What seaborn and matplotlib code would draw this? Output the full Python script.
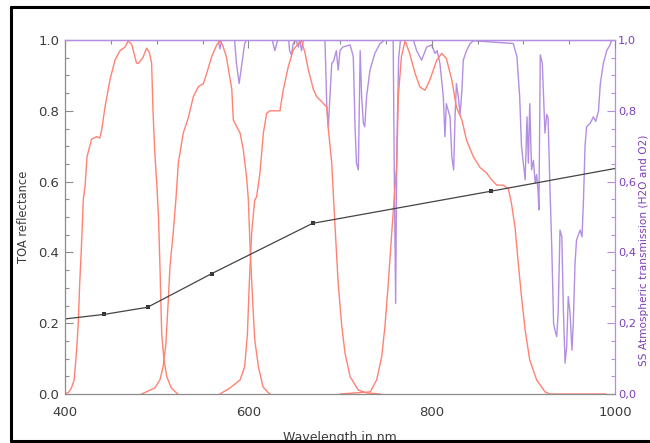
import matplotlib
matplotlib.use("Agg")
import matplotlib.pyplot as plt
from matplotlib.lines import Line2D
from matplotlib.ticker import MultipleLocator, FuncFormatter
import seaborn as sns

# TOA reflectance (black line, markers at the band centres)
toa_wl = [400, 443, 490, 560, 670, 865, 1000]
toa_val = [0.212, 0.225, 0.245, 0.34, 0.482, 0.573, 0.637]
band_wl = [443, 490, 560, 670, 865]
band_val = [0.225, 0.245, 0.339, 0.482, 0.573]

# spectral response of the four bands (red)
srf1_wl = [400, 404, 407, 410, 412.7, 414.5, 416, 418, 420, 422, 424, 429, 434.5, 438, 440, 443.6,
           449, 454.5, 460, 465.5, 469, 473, 478, 480, 485, 489, 492, 494.5, 496, 498, 500, 502,
           503.6, 505.5, 508, 511, 516, 523]
srf1_val = [0.0, 0.005, 0.017, 0.04, 0.124, 0.2, 0.31, 0.42, 0.55, 0.59, 0.67, 0.72, 0.727, 0.723,
            0.746, 0.81, 0.887, 0.943, 0.97, 0.98, 0.998, 0.986, 0.935, 0.934, 0.95, 0.977, 0.965,
            0.934, 0.80, 0.68, 0.6, 0.5, 0.36, 0.17, 0.096, 0.049, 0.017, 0.0]

srf2_wl = [483.6, 498, 503.6, 507, 510, 512.7, 514.5, 518, 521, 523.6, 529, 534.5, 540, 545.5, 551,
           554.5, 560, 565.5, 569, 572, 576, 582, 583.6, 591, 594.5, 598, 600, 602, 604.7, 607, 611,
           616, 622, 624]
srf2_val = [0.0, 0.017, 0.04, 0.077, 0.14, 0.265, 0.36, 0.454, 0.55, 0.652, 0.737, 0.78, 0.84,
            0.868, 0.877, 0.905, 0.953, 0.986, 0.998, 0.985, 0.953, 0.86, 0.774, 0.737, 0.69, 0.614,
            0.55, 0.407, 0.265, 0.153, 0.077, 0.02, 0.003, 0.0]

srf3_wl = [569, 580, 591, 596, 599, 601, 603.6, 607, 609, 612.7, 616.4, 620, 623.6, 634.5, 638,
           643.6, 649, 654.5, 658, 662, 665.5, 671, 674.5, 680, 685.5, 687, 691, 693, 696, 698, 702,
           705.5, 711, 720, 729, 744]
srf3_val = [0.0, 0.017, 0.04, 0.077, 0.17, 0.31, 0.454, 0.548, 0.557, 0.624, 0.737, 0.793, 0.80,
            0.80, 0.858, 0.925, 0.972, 0.99, 0.998, 0.962, 0.915, 0.86, 0.84, 0.826, 0.81, 0.755,
            0.652, 0.55, 0.407, 0.313, 0.19, 0.115, 0.049, 0.011, 0.003, 0.0]

srf4_wl = [700, 733, 740, 745.5, 749, 752.7, 756.4, 759, 762, 763.6, 767, 771, 776, 782, 787, 792.7,
           798, 805.5, 811, 816, 822, 827, 833, 838, 845.5, 852.7, 860, 865.5, 871, 878, 883.6, 887,
           891, 894.5, 898, 902, 907, 914.5, 923.6, 929, 990]
srf4_val = [0.0, 0.006, 0.04, 0.105, 0.19, 0.313, 0.454, 0.548, 0.652, 0.84, 0.953, 0.998, 0.962,
            0.905, 0.868, 0.858, 0.887, 0.943, 0.962, 0.948, 0.887, 0.81, 0.774, 0.717, 0.67, 0.64,
            0.624, 0.605, 0.59, 0.59, 0.58, 0.539, 0.47, 0.369, 0.275, 0.18, 0.096, 0.04, 0.006,
            0.0, 0.0]

# atmospheric transmission, H2O and O2 (purple)
trans_wl = [400, 567, 569, 571, 585, 587, 590, 593, 596, 598, 626, 629, 632, 644, 645, 647, 649,
            652, 654.5, 656, 658, 660, 683.6, 685.5, 687.3, 689, 691, 693, 696, 698, 700, 703, 711,
            714.5, 716.5, 718, 720, 722, 723.6, 725.5, 727, 729, 732.7, 738, 743.6, 749, 758, 759.3,
            760.7, 762, 764, 766, 780, 783.6, 789, 794.5, 800, 803.6, 806, 809, 812.7, 814.5, 816,
            820, 822, 824, 825.5, 827, 829, 831, 833, 834.5, 838, 842, 845.5, 889, 893, 896, 898,
            900, 902, 904, 905.5, 907, 909, 911, 913, 914.5, 916, 917, 918.5, 920.7, 923.6, 925.5,
            927, 929, 931, 933, 934.5, 936.4, 938, 940, 942, 943.6, 945.5, 947.3, 949, 951, 953,
            954.5, 956.4, 958, 962, 964, 965.5, 967.3, 969, 973, 976.4, 979, 982, 984, 987.3, 991,
            994.5, 996.4, 1000]
trans_val = [1.0, 1.0, 0.975, 1.0, 1.0, 0.934, 0.877, 0.934, 0.99, 1.0, 1.0, 0.97, 1.0, 1.0, 0.97,
             0.958, 0.99, 1.0, 0.98, 1.0, 0.97, 1.0, 1.0, 0.82, 0.755, 0.84, 0.934, 0.94, 0.97,
             0.915, 0.97, 0.98, 0.986, 0.953, 0.746, 0.652, 0.633, 0.97, 0.84, 0.765, 0.755, 0.84,
             0.915, 0.962, 0.99, 1.0, 1.0, 0.6, 0.256, 0.7, 0.95, 1.0, 1.0, 0.97, 0.943, 0.98,
             0.986, 0.962, 0.97, 0.934, 0.84, 0.727, 0.82, 0.783, 0.67, 0.633, 0.783, 0.877, 0.84,
             0.79, 0.858, 0.943, 0.97, 0.99, 0.998, 0.99, 0.953, 0.84, 0.70, 0.652, 0.605, 0.783,
             0.652, 0.82, 0.633, 0.66, 0.595, 0.62, 0.576, 0.52, 0.958, 0.934, 0.737, 0.79, 0.78,
             0.586, 0.416, 0.20, 0.18, 0.162, 0.228, 0.463, 0.444, 0.246, 0.087, 0.134, 0.275,
             0.228, 0.124, 0.2, 0.369, 0.435, 0.463, 0.444, 0.539, 0.70, 0.755, 0.765, 0.783,
             0.77, 0.80, 0.877, 0.934, 0.97, 0.986, 1.0, 1.0]

red = "#ff8272"
purple = "#b48ee2"
purple_dark = "#7d3fb8"
grey = "#8c8c8c"
text_col = "#3c3c3c"

sns.set_style("white")
plt.rcParams["font.family"] = ["DejaVu Sans"]

fig = plt.figure(figsize=(6.5, 4.43), dpi=100)
ax = fig.add_axes([65 / 650, 49 / 443, 550 / 650, 354 / 443])
ax2 = ax.twinx()
ax.set_zorder(ax2.get_zorder() + 1)
ax.patch.set_visible(False)

# transmission on the right axis
sns.lineplot(x=trans_wl, y=trans_val, ax=ax2, color=purple, lw=1.0, estimator=None)

# band responses and reflectance on the left axis
for wl, val in [(srf1_wl, srf1_val), (srf2_wl, srf2_val), (srf3_wl, srf3_val), (srf4_wl, srf4_val)]:
    sns.lineplot(x=wl, y=val, ax=ax, color=red, lw=1.0, estimator=None)
sns.lineplot(x=toa_wl, y=toa_val, ax=ax, color="#444444", lw=0.9, estimator=None)
sns.scatterplot(x=band_wl, y=band_val, ax=ax, color="#333333", marker="s", s=9, linewidth=0)

for a in (ax, ax2):
    a.set_xlim(400, 1000)
    a.set_ylim(0, 1)

ax.xaxis.set_major_locator(MultipleLocator(200))
ax.xaxis.set_minor_locator(MultipleLocator(50))
ax.yaxis.set_major_locator(MultipleLocator(0.2))
ax.yaxis.set_minor_locator(MultipleLocator(0.05))
ax.yaxis.set_major_formatter(FuncFormatter(lambda v, p: f"{v:.1f}"))
ax2.yaxis.set_major_locator(MultipleLocator(0.2))
ax2.yaxis.set_minor_locator(MultipleLocator(0.05))
ax2.yaxis.set_major_formatter(FuncFormatter(lambda v, p: f"{v:.1f}".replace(".", ",")))

ax.tick_params(axis="both", which="both", direction="in", colors=grey, labelcolor=text_col,
               labelsize=9.5)
ax.tick_params(axis="x", which="both", top=True, pad=9)
ax.tick_params(axis="y", which="both", left=True, right=False, pad=4)
ax.tick_params(which="major", length=6, width=0.8)
ax.tick_params(which="minor", length=3, width=0.8)
ax2.tick_params(axis="y", which="both", direction="in", colors=purple, labelcolor=purple_dark,
                labelsize=8.2, pad=2)
ax2.tick_params(which="major", length=6, width=0.8)
ax2.tick_params(which="minor", length=3, width=0.8)

for s in ("left", "bottom"):
    ax.spines[s].set_color(grey)
ax.spines["top"].set_color(purple)
ax.spines["right"].set_visible(False)
ax2.spines["right"].set_color(purple)
ax2.spines["top"].set_color(purple)
ax2.spines["left"].set_visible(False)
ax2.spines["bottom"].set_visible(False)
for a in (ax, ax2):
    for s in a.spines.values():
        s.set_linewidth(0.9)

ax.set_xlabel("Wavelength in nm", fontsize=9, color=text_col, labelpad=8)
ax.set_ylabel("TOA reflectance", fontsize=8.3, color=text_col, labelpad=6)
ax2.set_ylabel("")
fig.text(644 / 650, 1 - 250 / 443, "SS Atmospheric transmission (H2O and O2)", rotation=90,
         fontsize=7.6, color=purple_dark, ha="center", va="center")

# black frame around the picture (the right side is cut off)
for xs, ys in [([11 / 650, 11 / 650], [2 / 443, 436 / 443]),
               ([11 / 650, 1.0], [436 / 443, 436 / 443]),
               ([11 / 650, 1.0], [2 / 443, 2 / 443])]:
    fig.add_artist(Line2D(xs, ys, color="black", lw=2.2, transform=fig.transFigure))

fig.savefig("out.png", dpi=100)
